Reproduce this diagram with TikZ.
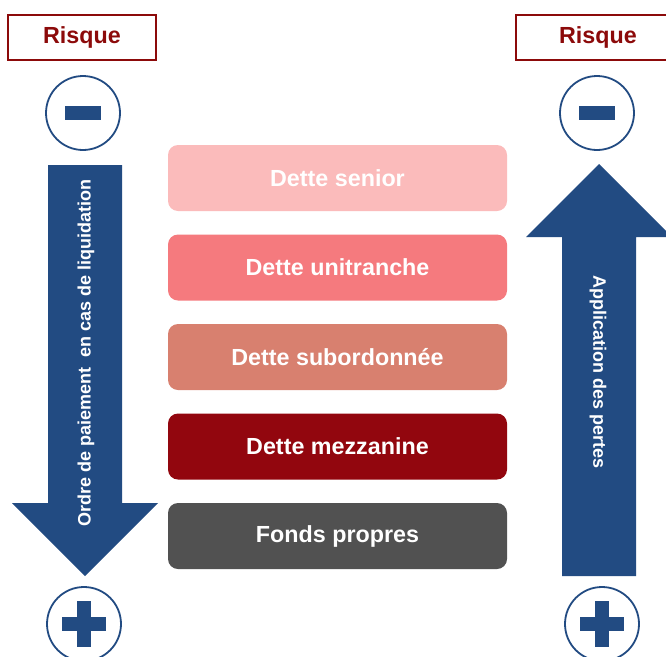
\documentclass[tikz,border=0pt]{standalone}
\usepackage{fontspec}
\setmainfont{Liberation Sans}
\definecolor{arrowblue}{HTML}{224B82}
\definecolor{riskred}{HTML}{8C0A0A}
\definecolor{csenior}{HTML}{FBBBBB}
\definecolor{cunitr}{HTML}{F57A7E}
\definecolor{csubord}{HTML}{D8806F}
\definecolor{cmezz}{HTML}{92060E}
\definecolor{cfonds}{HTML}{515151}
\begin{document}
\begin{tikzpicture}[x=1pt,y=-1pt,
  riskbox/.style={draw=riskred,line width=2.2pt,minimum width=148pt,minimum height=45pt,inner sep=0pt,
    font=\bfseries\fontsize{23.3}{27}\selectfont,text=riskred},
  layer/.style={fill=#1,rounded corners=10pt,minimum width=339pt,minimum height=66pt,inner sep=0pt,
    text=white,font=\bfseries\fontsize{23.3}{27}\selectfont},
  ring/.style={circle,draw=arrowblue,line width=1.8pt,minimum size=74pt,inner sep=0pt},
  bar/.style={fill=arrowblue},
  bigarrow/.style={fill=arrowblue},
  arrowtext/.style={text=white,font=\bfseries\fontsize{18}{22}\selectfont,inner sep=0pt}
]
\useasboundingbox (0,0) rectangle (666,656);
\begin{scope}
\clip (0,0) rectangle (666,656);
% Risque boxes
\node[riskbox] (risqueL) at (82,37.5) {Risque};
\node[riskbox,minimum width=164pt] (risqueR) at (598,37.5) {Risque};

% minus circles
\node[ring] (minusL) at (83,113) {};
\fill[bar] ([xshift=-18pt,yshift=-7pt]minusL.center) rectangle ([xshift=18pt,yshift=7pt]minusL.center);
\node[ring] (minusR) at (597,113) {};
\fill[bar] ([xshift=-18pt,yshift=-7pt]minusR.center) rectangle ([xshift=18pt,yshift=7pt]minusR.center);

% plus circles
\node[ring] (plusL) at (84,624) {};
\fill[bar] ([xshift=-22pt,yshift=-7pt]plusL.center) rectangle ([xshift=22pt,yshift=7pt]plusL.center);
\fill[bar] ([xshift=-7pt,yshift=-23pt]plusL.center) rectangle ([xshift=7pt,yshift=23pt]plusL.center);
\node[ring] (plusR) at (602,624) {};
\fill[bar] ([xshift=-22pt,yshift=-7pt]plusR.center) rectangle ([xshift=22pt,yshift=7pt]plusR.center);
\fill[bar] ([xshift=-7pt,yshift=-23pt]plusR.center) rectangle ([xshift=7pt,yshift=23pt]plusR.center);

% left arrow (down)
\fill[bigarrow] (48,165) -- (122,165) -- (122,503) -- (158,503) -- (85,576) -- (12,503) -- (48,503) -- cycle;
\node[arrowtext,rotate=90] (txtL) at (86,353) {Ordre de paiement\ \ en cas de liquidation};

% right arrow (up)
\fill[bigarrow] (599,164) -- (672,237) -- (636,237) -- (636,576) -- (562,576) -- (562,237) -- (526,237) -- cycle;
\node[arrowtext,rotate=-90] (txtR) at (598,372) {Application des pertes};

% layers
\node[layer=csenior] (senior) at (337.5,178) {Dette senior};
\node[layer=cunitr] (unitr) at (337.5,267.5) {Dette unitranche};
\node[layer=csubord] (subord) at (337.5,357) {Dette subordonnée};
\node[layer=cmezz] (mezz) at (337.5,446.5) {Dette mezzanine};
\node[layer=cfonds] (fonds) at (337.5,536) {Fonds propres};
\end{scope}
\end{tikzpicture}
\end{document}
